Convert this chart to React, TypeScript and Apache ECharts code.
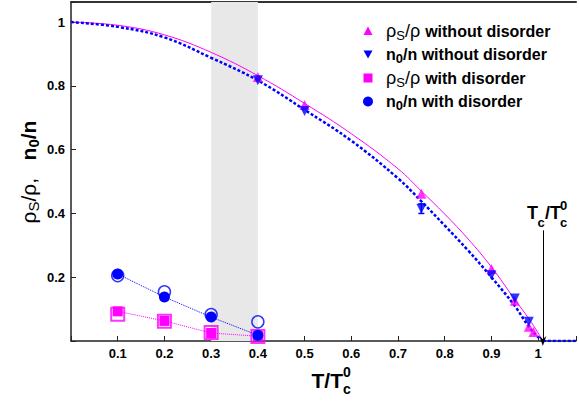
import React, { useEffect, useRef } from 'react';
import * as echarts from 'echarts';

// ---- axis ticks ----
const xTickValues = [0.1, 0.2, 0.3, 0.4, 0.5, 0.6, 0.7, 0.8, 0.9, 1.0];
const xTickLabels = ['0.1', '0.2', '0.3', '0.4', '0.5', '0.6', '0.7', '0.8', '0.9', '1'];
const yTickValues = [0.2, 0.4, 0.6, 0.8, 1.0];
const yTickLabels = ['0.2', '0.4', '0.6', '0.8', '1'];

// ---- theory curves ----
const rhoCurveT = [0, 0.1, 0.2, 0.3, 0.4, 0.5, 0.6, 0.7, 0.75, 0.8, 0.85, 0.9, 0.95, 0.98, 1.0, 1.01];
const rhoCurveV = [1.0, 0.99, 0.96, 0.905, 0.832, 0.745, 0.65, 0.54, 0.47, 0.398, 0.32, 0.232, 0.13, 0.07, 0.025, 0];
const n0CurveT = [0, 0.1, 0.2, 0.3, 0.4, 0.5, 0.6, 0.7, 0.75, 0.8, 0.85, 0.9, 0.95, 0.98, 1.0, 1.01];
const n0CurveV = [1.0, 0.985, 0.952, 0.888, 0.817, 0.725, 0.628, 0.51, 0.438, 0.362, 0.284, 0.2, 0.11, 0.045, 0.012, 0];
const n0TailT = [1.01, 1.081];
const n0TailV = [0, 0];

// ---- data without disorder ----
const cleanRhoT = [0.4, 0.5, 0.75, 0.9, 0.95, 0.98, 0.99];
const cleanRhoV = [0.828, 0.74, 0.462, 0.226, 0.126, 0.045, 0.028];
const cleanN0T = [0.4, 0.5, 0.75, 0.9, 0.95, 0.98];
const cleanN0V = [0.818, 0.721, 0.415, 0.206, 0.133, 0.06];
const errT = [0.75];
const errLow = [0.4];
const errHigh = [0.43];

// ---- data with disorder ----
const disT = [0.1, 0.2, 0.3, 0.4];
const disRhoFilled = [0.093, 0.063, 0.025, 0.015];
const disRhoOpen = [0.084, 0.062, 0.027, 0.014];
const disN0Filled = [0.21, 0.138, 0.075, 0.018];
const disN0Open = [0.205, 0.154, 0.083, 0.06];

// ---- annotations ----
const shadeRange = [0.3, 0.4];
const tcValue = 1.01;
const tcArrowTop = 0.347;

const FONT = '"Liberation Sans", Arial, Helvetica, sans-serif';
const MAG = '#ff00ff';
const BLUE = '#0000ff';

const pairs = (xs: number[], ys: number[]) => xs.map((x, i) => [x, ys[i]]);

const tickFmt = (vals: number[], labels: string[]) => (v: number) => {
  const i = vals.findIndex((t) => Math.abs(t - v) < 1e-6);
  return i >= 0 ? labels[i] : '';
};

export default function App() {
  const ref = useRef<HTMLDivElement>(null);
  useEffect(() => {
    if (!ref.current) return;
    const chart = echarts.init(ref.current, null, { renderer: 'svg' });
    const legendRows = [31, 54.5, 78, 101.5];
    const legRich = {
      rho: { fontSize: 18, fontWeight: 'normal', fontFamily: FONT, fill: '#000' },
      s: { fontSize: 13, fontWeight: 'normal', fontFamily: FONT, fill: '#000', padding: [8, 0, 0, 0] },
      b: { fontSize: 16, fontWeight: 'bold', fontFamily: FONT, fill: '#000' },
      bs: { fontSize: 13, fontWeight: 'bold', fontFamily: FONT, fill: '#000', padding: [8, 0, 0, 0] },
    };
    const legendTexts = [
      '{rho|ρ}{s|S}{rho|/ρ }{b|without disorder}',
      '{b|n}{bs|0}{b|/n without disorder}',
      '{rho|ρ}{s|S}{rho|/ρ }{b|with disorder}',
      '{b|n}{bs|0}{b|/n with disorder}',
    ];
    const txt = (x: number, y: number, text: string, size: number, align = 'left') => ({
      type: 'text',
      x,
      y,
      style: { text, fontSize: size, fontWeight: 'bold', fontFamily: FONT, fill: '#000', align, verticalAlign: 'middle' },
    });
    const option: any = {
      animation: false,
      backgroundColor: '#fff',
      grid: { left: 71, right: 0, top: 2, bottom: 61, containLabel: false },
      xAxis: [
        {
          type: 'value',
          min: 0,
          max: 1.081,
          interval: 0.1,
          axisLine: { show: true, onZero: false, lineStyle: { color: '#222', width: 1.5 } },
          axisTick: { show: true, inside: true, length: 5, lineStyle: { color: '#222', width: 1 } },
          axisLabel: {
            formatter: tickFmt(xTickValues, xTickLabels),
            fontSize: 13,
            fontWeight: 'bold',
            fontFamily: FONT,
            color: '#000',
            margin: 6,
          },
          splitLine: { show: false },
        },
        {
          type: 'value',
          position: 'top',
          min: 0,
          max: 1.081,
          axisLine: { show: true, onZero: false, lineStyle: { color: '#333', width: 2 } },
          axisTick: { show: false },
          axisLabel: { show: false },
          splitLine: { show: false },
        },
      ],
      yAxis: {
        type: 'value',
        min: 0,
        max: 1.063,
        interval: 0.2,
        axisLine: { show: true, onZero: false, lineStyle: { color: '#222', width: 1.5 } },
        axisTick: { show: true, inside: true, length: 5, lineStyle: { color: '#222', width: 1 } },
        axisLabel: {
          formatter: tickFmt(yTickValues, yTickLabels),
          fontSize: 13,
          fontWeight: 'bold',
          fontFamily: FONT,
          color: '#000',
          margin: 6,
        },
        splitLine: { show: false },
      },
      series: [
        {
          name: 'shade',
          type: 'line',
          z: 1,
          data: shadeRange.map((x) => [x, 0]),
          symbol: 'none',
          lineStyle: { opacity: 0 },
          markArea: {
            silent: true,
            itemStyle: { color: '#e8e8e8' },
            data: [[{ xAxis: shadeRange[0] }, { xAxis: shadeRange[1] }]],
          },
          markLine: {
            silent: true,
            symbol: ['none', 'path://M5,0 L10,12 L5,8 L0,12 Z'],
            symbolSize: [7, 10],
            lineStyle: { color: '#000', width: 1, type: 'solid' },
            label: { show: false },
            data: [[{ coord: [tcValue, tcArrowTop] }, { coord: [tcValue, 0] }]],
          },
        },
        {
          name: 'rho theory',
          type: 'line',
          z: 3,
          data: pairs(rhoCurveT, rhoCurveV),
          smooth: 0.4,
          symbol: 'none',
          lineStyle: { color: MAG, width: 1 },
        },
        {
          name: 'n0 theory',
          type: 'line',
          z: 3,
          data: pairs(n0CurveT, n0CurveV),
          smooth: 0.4,
          symbol: 'none',
          lineStyle: { color: BLUE, width: 2.5, type: [3, 2] },
        },
        {
          name: 'n0 tail',
          type: 'line',
          z: 3,
          data: pairs(n0TailT, n0TailV),
          symbol: 'none',
          lineStyle: { color: BLUE, width: 2.5, type: [3, 2] },
        },
        {
          name: 'err',
          type: 'custom',
          z: 4,
          data: errT.map((t, i) => [t, errLow[i], errHigh[i]]),
          encode: { x: 0, y: [1, 2] },
          renderItem: (params: any, api: any) => {
            const x = api.value(0);
            const lo = api.coord([x, api.value(1)]);
            const hi = api.coord([x, api.value(2)]);
            const st = { stroke: BLUE, lineWidth: 1.5 };
            return {
              type: 'group',
              children: [
                { type: 'line', shape: { x1: lo[0], y1: lo[1], x2: hi[0], y2: hi[1] }, style: st },
                { type: 'line', shape: { x1: lo[0] - 3, y1: lo[1], x2: lo[0] + 3, y2: lo[1] }, style: st },
                { type: 'line', shape: { x1: hi[0] - 3, y1: hi[1], x2: hi[0] + 3, y2: hi[1] }, style: st },
              ],
            };
          },
        },
        {
          name: 'rho clean',
          type: 'scatter',
          z: 5,
          data: pairs(cleanRhoT, cleanRhoV),
          symbol: 'triangle',
          symbolSize: 10,
          itemStyle: { color: MAG },
        },
        {
          name: 'n0 clean',
          type: 'scatter',
          z: 6,
          data: pairs(cleanN0T, cleanN0V),
          symbol: 'triangle',
          symbolRotate: 180,
          symbolSize: 10,
          itemStyle: { color: BLUE },
        },
        {
          name: 'rho dis open',
          type: 'scatter',
          z: 5,
          data: pairs(disT, disRhoOpen),
          symbol: 'rect',
          symbolSize: 13,
          itemStyle: { color: 'rgba(0,0,0,0)', borderColor: MAG, borderWidth: 2 },
        },
        {
          name: 'rho dis',
          type: 'line',
          z: 6,
          data: pairs(disT, disRhoFilled),
          symbol: 'rect',
          symbolSize: 10,
          showSymbol: true,
          itemStyle: { color: MAG },
          lineStyle: { color: MAG, width: 1, type: 'dotted' },
        },
        {
          name: 'n0 dis open',
          type: 'scatter',
          z: 7,
          data: pairs(disT, disN0Open),
          symbol: 'circle',
          symbolSize: 12,
          itemStyle: { color: 'rgba(0,0,0,0)', borderColor: BLUE, borderWidth: 1.5 },
        },
        {
          name: 'n0 dis',
          type: 'line',
          z: 8,
          data: pairs(disT, disN0Filled),
          symbol: 'circle',
          symbolSize: 11,
          showSymbol: true,
          itemStyle: { color: BLUE },
          lineStyle: { color: BLUE, width: 1, type: 'dotted' },
        },
      ],
      graphic: [
        // y axis title
        {
          type: 'text',
          x: 28,
          y: 172,
          rotation: Math.PI / 2,
          style: {
            text: '{r|ρ}{rs|S}{r|/ρ,   }{b|n}{bs|0}{b|/n}',
            align: 'center',
            verticalAlign: 'middle',
            rich: {
              r: { fontSize: 21, fontWeight: 'normal', fontFamily: FONT, fill: '#000' },
              rs: { fontSize: 15, fontWeight: 'normal', fontFamily: FONT, fill: '#000', padding: [10, 0, 0, 0] },
              b: { fontSize: 21, fontWeight: 'bold', fontFamily: FONT, fill: '#000' },
              bs: { fontSize: 15, fontWeight: 'bold', fontFamily: FONT, fill: '#000', padding: [10, 0, 0, 0] },
            },
          },
        },
        // x axis title T/Tc^0
        txt(343, 380.5, 'T/T', 21, 'right'),
        txt(343, 389, 'c', 14),
        txt(343, 372, '0', 14),
        // Tc/Tc^0 label
        txt(527, 213, 'T', 18),
        txt(537.5, 222, 'c', 13),
        txt(545, 213, '/T', 18),
        txt(560, 222, 'c', 13),
        txt(560, 205.5, '0', 13),
        // legend icons
        { type: 'polygon', shape: { points: [[368, 26.5], [372.5, 35], [363.5, 35]] }, style: { fill: MAG } },
        { type: 'polygon', shape: { points: [[363.5, 50.5], [372.5, 50.5], [368, 58.5]] }, style: { fill: BLUE } },
        { type: 'rect', shape: { x: 363.5, y: 73.5, width: 9, height: 9 }, style: { fill: MAG } },
        { type: 'circle', shape: { cx: 368, cy: 101.5, r: 5 }, style: { fill: BLUE } },
        ...legendTexts.map((t, i) => ({
          type: 'text',
          x: 386,
          y: legendRows[i],
          style: { text: t, rich: legRich, align: 'left', verticalAlign: 'middle' },
        })),
      ],
    };
    chart.setOption(option);
    return () => chart.dispose();
  }, []);
  return (
    <div
      ref={ref}
      style={{ position: 'fixed', left: 0, top: 0, width: 579, height: 402, background: '#fff' }}
    />
  );
}
